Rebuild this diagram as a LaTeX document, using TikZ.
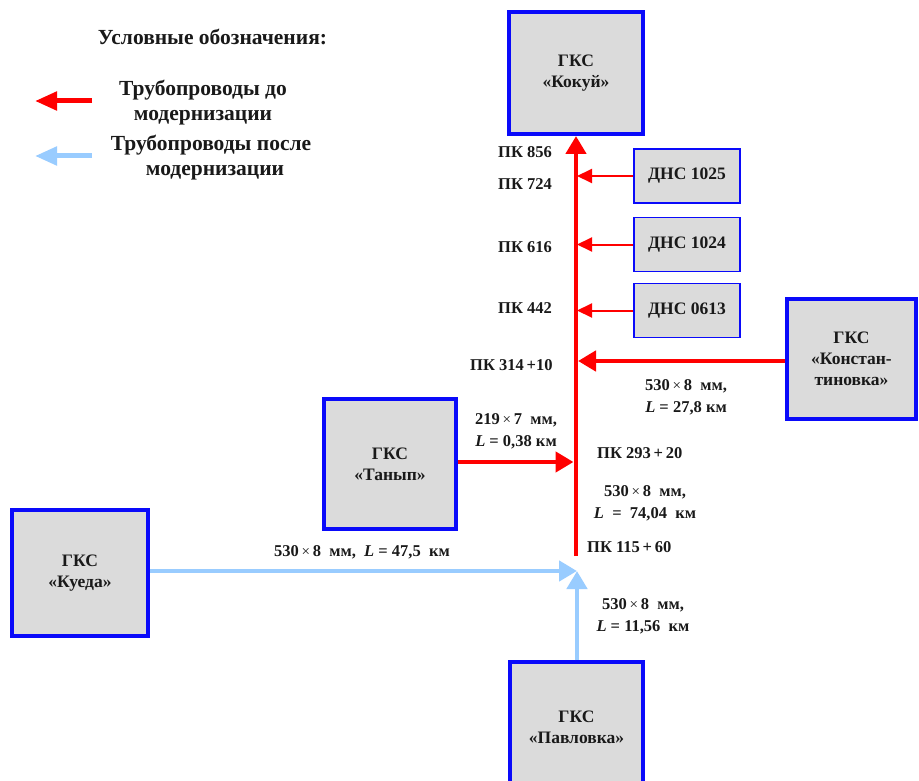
\documentclass[tikz,border=0pt]{standalone}
\usepackage{fontspec}
\setmainfont{Liberation Serif}
\usetikzlibrary{arrows.meta}
\definecolor{boxblue}{RGB}{10,10,250}
\definecolor{boxfill}{RGB}{219,219,219}
\definecolor{pipered}{RGB}{255,0,0}
\definecolor{pipeblue}{RGB}{153,204,255}
\definecolor{txt}{RGB}{25,25,25}
\newcommand{\tms}{\,{\mdseries\fontsize{15}{15}\selectfont ×}\,}
\begin{document}
\begin{tikzpicture}[x=1pt,y=-1pt,
  every node/.style={font=\fontsize{16.5}{22}\selectfont\bfseries, text=txt, inner sep=0pt},
  gks/.style={draw=boxblue, line width=4pt, fill=boxfill, align=center, font=\fontsize{17.5}{21}\selectfont\bfseries},
  dns/.style={draw=boxblue, line width=1.6pt, fill=boxfill, minimum width=106pt, minimum height=54pt, font=\fontsize{17.5}{21}\selectfont\bfseries},
  lbl/.style={align=center},
  legend/.style={font=\fontsize{21.5}{25}\selectfont\bfseries, align=center},
  redpipe/.style={draw=pipered, line width=4.5pt, -{Triangle[length=18pt,width=20pt]}},
  thinred/.style={draw=pipered, line width=2pt, -{Triangle[length=15pt,width=14pt]}},
  bluepipe/.style={draw=pipeblue, line width=4.5pt, -{Triangle[length=18pt,width=20pt]}},
  legred/.style={draw=pipered, line width=5pt, -{Triangle[length=22pt,width=18pt]}},
  legblue/.style={draw=pipeblue, line width=5pt, -{Triangle[length=22pt,width=18pt]}}]
\clip (0,0) rectangle (919,781);
\fill[white] (0,0) rectangle (919,781);

% legend
\node[legend] (legtitle) at (212.5,37) {Условные обозначения:};
\node[legend] (legredtxt) at (203,103) {Трубопроводы до\\модернизации};
\node[legend] (legbluetxt) at (211,158) {Трубопроводы после\\\hspace*{8pt}модернизации};
\coordinate (lr1) at (92,101);
\coordinate (lr2) at (35,101);
\coordinate (lb1) at (92,156);
\coordinate (lb2) at (35,156);
\draw[legred] (lr1) -- (lr2);
\draw[legblue] (lb1) -- (lb2);

% stations
\node[gks, minimum width=134pt, minimum height=122pt] (kokuy) at (576,73) {ГКС\\«Кокуй»};
\node[gks, minimum width=136pt, minimum height=126pt] (kueda) at (80,573) {ГКС\\«Куеда»};
\node[gks, minimum width=132pt, minimum height=130pt] (tanyp) at (390,464) {ГКС\\«Танып»};
\node[gks, minimum width=133pt, minimum height=130pt] (pavl) at (576.5,727) {ГКС\\«Павловка»};
\node[gks, minimum width=129pt, minimum height=120pt] (konst) at (851.5,359) {ГКС\\«Констан-\\тиновка»};

\node[dns] (d1025) at (687,176) {ДНС 1025};
\node[dns] (d1024) at (687,244.5) {ДНС 1024};
\node[dns] (d0613) at (687,310.5) {ДНС 0613};

% main line
\coordinate (bot) at (576,556);
\coordinate (meet) at (577,571);
\draw[redpipe] (bot) -- (kokuy.south);
\draw[thinred, shorten >=1pt] (d1025.west) -- (d1025.west -| bot);
\draw[thinred, shorten >=1pt] (d1024.west) -- (d1024.west -| bot);
\draw[thinred, shorten >=1pt] (d0613.west) -- (d0613.west -| bot);
\draw[redpipe, shorten >=2pt] (konst.west |- 0,361) coordinate (kw) -- (kw -| bot);
\draw[redpipe, shorten >=2.5pt] (tanyp.east |- 0,462) coordinate (tw) -- (tw -| bot);
\draw[bluepipe] (kueda.east |- meet) -- (meet);
\draw[bluepipe] (pavl.north -| meet) -- (meet);

% labels
\node[anchor=west] (pk856) at (498,152) {ПК 856};
\node[anchor=west] (pk724) at (498,184) {ПК 724};
\node[anchor=west] (pk616) at (498,247) {ПК 616};
\node[anchor=west] (pk442) at (498,308) {ПК 442};
\node[anchor=west] (pk314) at (470,365) {ПК 314\,+10};
\node[lbl] (ltan) at (516,431) {219\tms 7 \ мм,\\\textit{L} = 0,38 км};
\node[anchor=west] (pk293) at (597,453) {ПК 293\,+\,20};
\node[lbl] (lkon) at (686,397.5) {530\tms 8 \ мм,\\\textit{L} = 27,8 км};
\node[lbl] (lmain) at (645,503) {530\tms 8 \ мм,\\\textit{L} \ = \ 74,04 \ км};
\node[anchor=west] (pk115) at (587,547) {ПК 115\,+\,60};
\node (lkue) at (362,552) {530\tms 8 \ мм, \ \textit{L} = 47,5 \ км};
\node[lbl] (lpav) at (643,616) {530\tms 8 \ мм,\\\textit{L} = 11,56 \ км};
\end{tikzpicture}
\end{document}
